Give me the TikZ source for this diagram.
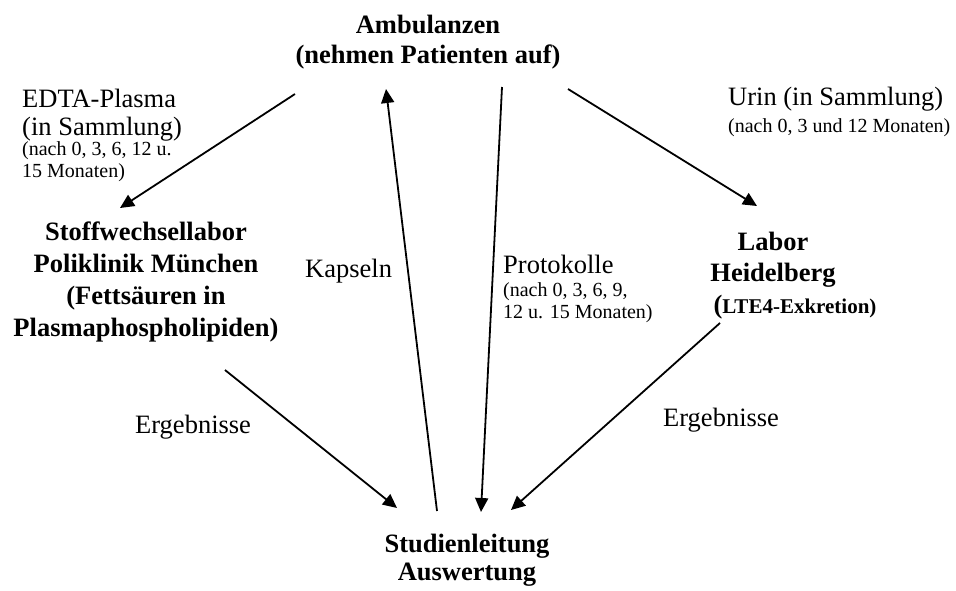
\documentclass[tikz,border=0pt]{standalone}
\usepackage{fontspec}
\setmainfont{Liberation Serif}
\usetikzlibrary{arrows.meta}
\newcommand{\gross}{\fontsize{26.5}{31}\selectfont}
\newcommand{\mittel}{\fontsize{26.5}{28}\selectfont}
\newcommand{\klein}{\fontsize{20}{22}\selectfont}

\begin{document}
\begin{tikzpicture}[x=1pt,y=-1pt,
 pf/.style={line width=1.8pt,-{Triangle[length=14pt,width=13pt]}},
 ort/.style={font=\gross\bfseries,align=center,inner sep=0pt},
 txt/.style={font=\mittel,align=left,inner sep=0pt,anchor=north west},
 zeit/.style={font=\klein,align=left,inner sep=0pt,anchor=north west}]
\clip (0,0) rectangle (956,590);
% Stellen
\node[ort,font=\fontsize{26.5}{30}\selectfont\bfseries] (amb) at (428,42)
 {Ambulanzen\\(nehmen Patienten auf)};
\node[ort,font=\fontsize{26.5}{32.3}\selectfont\bfseries] (stoff) at (146,282)
 {Stoffwechsellabor\\Poliklinik M\"unchen\\(Fetts\"auren in\\Plasmaphospholipiden)};
\node[ort,font=\fontsize{26.5}{31.5}\selectfont\bfseries] (labor) at (773,275.5)
 {Labor\\Heidelberg\\\hspace*{44pt}({\fontsize{21}{24}\selectfont LTE4-Exkretion)}};
\node[ort,font=\fontsize{26.5}{28}\selectfont\bfseries] (studie) at (467,560)
 {Studienleitung\\Auswertung};
% Beschriftungen
\node[txt] (edta) at (22,88.9) {EDTA-Plasma\\(in Sammlung)};
\node[zeit] (edtazeit) at (22,141.1) {(nach 0, 3, 6, 12 u.\\15 Monaten)};
\node[txt] (urin) at (728,86.6) {Urin (in Sammlung)};
\node[zeit] (urinzeit) at (728,118.1) {(nach 0, 3 und 12 Monaten)};
\node[txt] (prot) at (503,254.9) {Protokolle};
\node[zeit] (protzeit) at (503,282.1) {(nach 0, 3, 6, 9,\\12 u. 15 Monaten)};
\node[font=\mittel,inner sep=0pt,anchor=base west] (kaps) at (305,277) {Kapseln};
\node[font=\mittel,inner sep=0pt,anchor=base west] (erg1) at (135,433) {Ergebnisse};
\node[font=\mittel,inner sep=0pt,anchor=base west] (erg2) at (663,426) {Ergebnisse};
% Pfeile
\draw[pf]([shift={(-133,52)}]amb.center)--([shift={(-26,-74)}]stoff.center);
\draw[pf]([shift={(-30,-49)}]studie.center)--([shift={(-42,47)}]amb.center);
\draw[pf]([shift={(74,45)}]amb.center)--([shift={(14,-48)}]studie.center);
\draw[pf]([shift={(140,47)}]amb.center)--([shift={(-16,-69.5)}]labor.center);
\draw[pf]([shift={(79,88)}]stoff.center)--([shift={(-70,-52)}]studie.center);
\draw[pf]([shift={(-53,47.5)}]labor.center)--([shift={(44,-50)}]studie.center);
\end{tikzpicture}
\end{document}
